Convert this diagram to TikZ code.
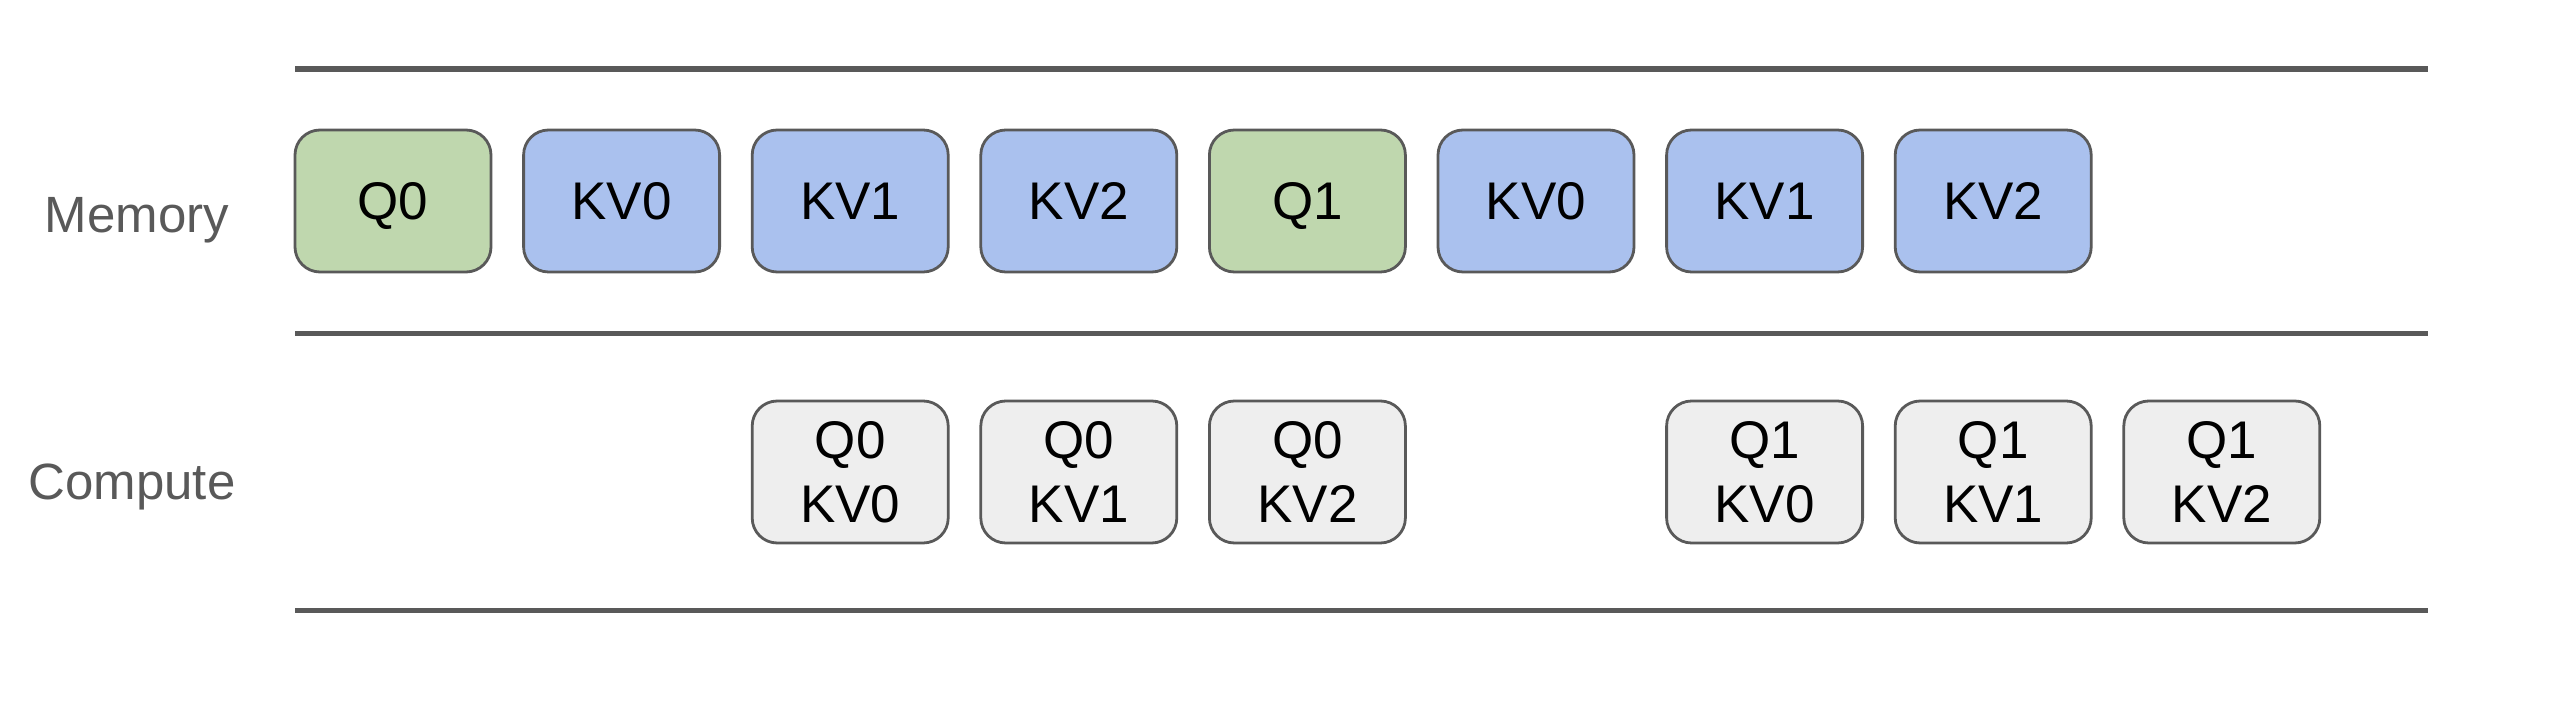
\documentclass[tikz,border=0pt]{standalone}
\usepackage{fontspec}
\setmainfont{Liberation Sans}
\definecolor{edge}{HTML}{595959}
\definecolor{qgreen}{HTML}{BFD7AE}
\definecolor{kvblue}{HTML}{AAC1EE}
\definecolor{cgray}{HTML}{EEEEEE}
\begin{document}
\begin{tikzpicture}[x=0.5pt,y=-0.5pt,
  blk/.style={rectangle, rounded corners=12.5pt, draw=edge, line width=1.4pt,
    minimum width=98pt, minimum height=71pt, inner sep=0pt, text=black,
    font=\fontsize{26.5}{32}\selectfont, align=center},
  oneline/.style={blk, text height=19pt, text depth=0pt},
  qblk/.style={oneline, fill=qgreen},
  kvblk/.style={oneline, fill=kvblue},
  cblk/.style={blk, fill=cgray},
  rowlabel/.style={text=edge, font=\fontsize{25.5}{30}\selectfont, inner sep=0pt,
    text height=18.3pt, text depth=0pt},
  sep/.style={draw=edge, line width=2.8pt}]
\useasboundingbox (0,0) rectangle (2560,710);
% separators
\draw[sep] (295,69) -- (2428,69);
\draw[sep] (295,333.5) -- (2428,333.5);
\draw[sep] (295,610.5) -- (2428,610.5);
% row labels
\node[rowlabel] (memlbl) at (137,214) {Memory};
\node[rowlabel] (complbl) at (132,481) {Compute};
% memory row
\node[qblk]  (m0) at (393,201) {Q0};
\node[kvblk] (m1) at (621.6,201) {KV0};
\node[kvblk] (m2) at (850.2,201) {KV1};
\node[kvblk] (m3) at (1078.8,201) {KV2};
\node[qblk]  (m4) at (1307.4,201) {Q1};
\node[kvblk] (m5) at (1536,201) {KV0};
\node[kvblk] (m6) at (1764.6,201) {KV1};
\node[kvblk] (m7) at (1993.2,201) {KV2};
% compute row
\node[cblk] (c0) at (850.2,472) {Q0\\KV0};
\node[cblk] (c1) at (1078.8,472) {Q0\\KV1};
\node[cblk] (c2) at (1307.4,472) {Q0\\KV2};
\node[cblk] (c3) at (1764.6,472) {Q1\\KV0};
\node[cblk] (c4) at (1993.2,472) {Q1\\KV1};
\node[cblk] (c5) at (2221.8,472) {Q1\\KV2};
\end{tikzpicture}
\end{document}
